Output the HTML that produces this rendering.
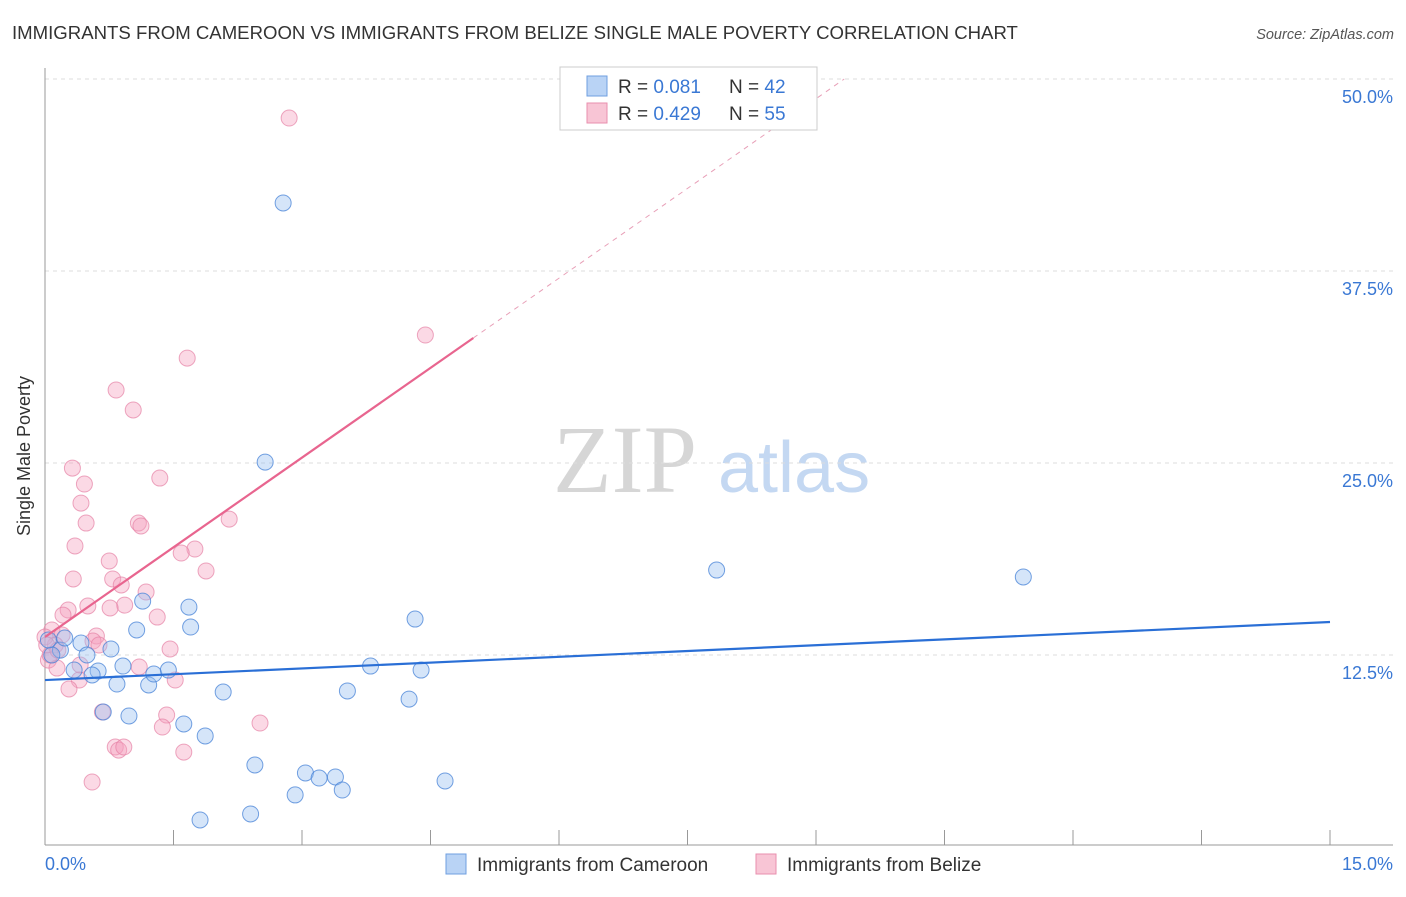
<!DOCTYPE html>
<html><head><meta charset="utf-8"><style>
body{margin:0;background:#fff;font-family:"Liberation Sans",sans-serif;}
svg text{font-family:"Liberation Sans",sans-serif;}
</style></head><body>
<svg id="chart" width="1406" height="892" xmlns="http://www.w3.org/2000/svg">
<text x="12" y="39" font-size="18.6" fill="#333">IMMIGRANTS FROM CAMEROON VS IMMIGRANTS FROM BELIZE SINGLE MALE POVERTY CORRELATION CHART</text>
<text x="1394" y="39" font-size="14.5" fill="#555" font-style="italic" text-anchor="end">Source: ZipAtlas.com</text>
<g>
<text x="553" y="492" font-size="96" fill="#d6d6d6" style="font-family:'Liberation Serif',serif">ZIP</text>
<text x="718" y="492" font-size="72" fill="#c4d8f2">atlas</text>
</g>
<g id="grid"></g>
<line x1="45" y1="68" x2="45" y2="845" stroke="#999"/>
<line x1="45" y1="845" x2="1393" y2="845" stroke="#999"/>
<text x="30" y="456" font-size="18" fill="#333" text-anchor="middle" transform="rotate(-90 30 456)">Single Male Poverty</text>
<text x="45" y="870" font-size="18" fill="#3a78d4">0.0%</text>
<text x="1393" y="870" font-size="18" fill="#3a78d4" text-anchor="end">15.0%</text>
<g id="marks"></g>
<g>
<rect x="560" y="67" width="257" height="63" fill="#fff" stroke="#ccc"/>
<rect x="587" y="76" width="20" height="20" fill="#b9d3f5" stroke="#6f9fe0"/>
<rect x="587" y="103" width="20" height="20" fill="#f8c5d5" stroke="#e98fae"/>
<text x="618" y="93" font-size="19" fill="#333">R = <tspan fill="#3a78d4">0.081</tspan></text>
<text x="729" y="93" font-size="19" fill="#333">N = <tspan fill="#3a78d4">42</tspan></text>
<text x="618" y="120" font-size="19" fill="#333">R = <tspan fill="#3a78d4">0.429</tspan></text>
<text x="729" y="120" font-size="19" fill="#333">N = <tspan fill="#3a78d4">55</tspan></text>
</g>
<g>
<rect x="446" y="854" width="20" height="20" fill="#b9d3f5" stroke="#6f9fe0"/>
<text x="477" y="871" font-size="19" fill="#333">Immigrants from Cameroon</text>
</g>
<g>
<rect x="756" y="854" width="20" height="20" fill="#f8c5d5" stroke="#e98fae"/>
<text x="787" y="871" font-size="19" fill="#333">Immigrants from Belize</text>
</g>
</svg>
<script>
const yTicks=[12.5,25.0,37.5,50.0];
const xTicks=[0,1.5,3,4.5,6,7.5,9,10.5,12,13.5,15];
const blueX=[2.78,2.57,7.84,11.42,1.14,1.68,1.07,1.70,4.32,0.77,0.42,0.18,0.08,0.04,0.23,0.49,0.91,0.62,0.55,0.34,0.84,1.21,1.27,1.44,3.80,4.39,2.08,3.53,4.25,0.68,0.98,1.62,1.87,2.45,3.04,3.20,3.39,3.47,2.92,4.67,1.81,2.40];
const blueY=[41.93,25.06,18.03,17.58,16.01,15.62,14.13,14.32,14.84,12.89,13.28,12.82,12.50,13.48,13.61,12.50,11.78,11.46,11.20,11.52,10.61,10.55,11.26,11.52,11.78,11.52,10.09,10.16,9.63,8.79,8.53,8.01,7.23,5.34,4.82,4.49,4.56,3.71,3.39,4.30,1.76,2.15];
const pinkX=[2.85,4.44,1.66,0.83,1.03,0.32,1.34,0.46,0.42,0.48,1.09,1.12,2.15,0.35,0.75,1.75,1.59,1.88,0.33,0.79,0.89,1.18,0.50,0.93,0.76,0.27,0.21,1.31,0.08,0.20,0.60,0.56,0.63,0.12,0.00,0.04,0.14,0.41,1.10,1.46,1.52,0.40,0.28,0.67,1.42,1.37,2.51,0.82,0.86,0.92,1.62,0.55,0.06,0.02,0.15];
const pinkY=[47.46,33.33,31.83,29.75,28.45,24.67,24.02,23.63,22.39,21.09,21.09,20.90,21.35,19.60,18.62,19.40,19.14,17.97,17.45,17.45,17.06,16.60,15.69,15.75,15.56,15.43,15.10,14.97,14.13,13.80,13.74,13.41,13.15,13.15,13.67,12.17,11.65,11.85,11.72,12.89,10.87,10.87,10.29,8.79,8.59,7.81,8.07,6.51,6.31,6.51,6.18,4.23,12.50,13.15,12.82];
const blueLine=[10.87,14.65];
const pinkLine=[13.67,33.14,5.0];
const NS="http://www.w3.org/2000/svg";
const sx=v=>45+v/15*1285;
const sy=v=>847-v/12.5*192;
const grid=document.getElementById('grid'),marks=document.getElementById('marks');
function mk(t,a,p){const e=document.createElementNS(NS,t);for(const k in a)e.setAttribute(k,a[k]);p.appendChild(e);return e;}
yTicks.forEach(v=>{
 const l=mk('line',{x1:45,x2:1393,y1:sy(v),y2:sy(v),stroke:'#ddd','stroke-dasharray':'4,4'},grid);
 
 
 const t=mk('text',{x:1393,y:sy(v)+24,'font-size':18,fill:'#3a78d4','text-anchor':'end'},grid);
 t.textContent=v.toFixed(1)+'%';
 
 
});
xTicks.forEach(v=>{
 const l=mk('line',{x1:sx(v),x2:sx(v),y1:830,y2:845,stroke:'#999'},grid);
 
 
});
pinkX.forEach((x,i)=>{
 const c=mk('circle',{cx:sx(x),cy:sy(pinkY[i]),r:8,fill:'rgba(244,160,190,0.4)',stroke:'rgba(230,130,165,0.7)','stroke-width':1},marks);
 
 
});
blueX.forEach((x,i)=>{
 const c=mk('circle',{cx:sx(x),cy:sy(blueY[i]),r:8,fill:'rgba(150,190,240,0.4)',stroke:'rgba(70,130,215,0.75)','stroke-width':1},marks);
 
 
});
const slope=(pinkLine[1]-pinkLine[0])/pinkLine[2];
const xEnd=(50-pinkLine[0])/slope;
const pd=mk('line',{x1:sx(pinkLine[2]),y1:sy(pinkLine[1]),x2:sx(xEnd),y2:sy(50),stroke:'#e8a0b8','stroke-dasharray':'5,5','stroke-width':1},marks);


const pl=mk('line',{x1:sx(0),y1:sy(pinkLine[0]),x2:sx(pinkLine[2]),y2:sy(pinkLine[1]),stroke:'#e8658f','stroke-width':2.2},marks);


const bl=mk('line',{x1:sx(0),y1:sy(blueLine[0]),x2:sx(15),y2:sy(blueLine[1]),stroke:'#2a6fd6','stroke-width':2.2},marks);


</script>
</body></html>
